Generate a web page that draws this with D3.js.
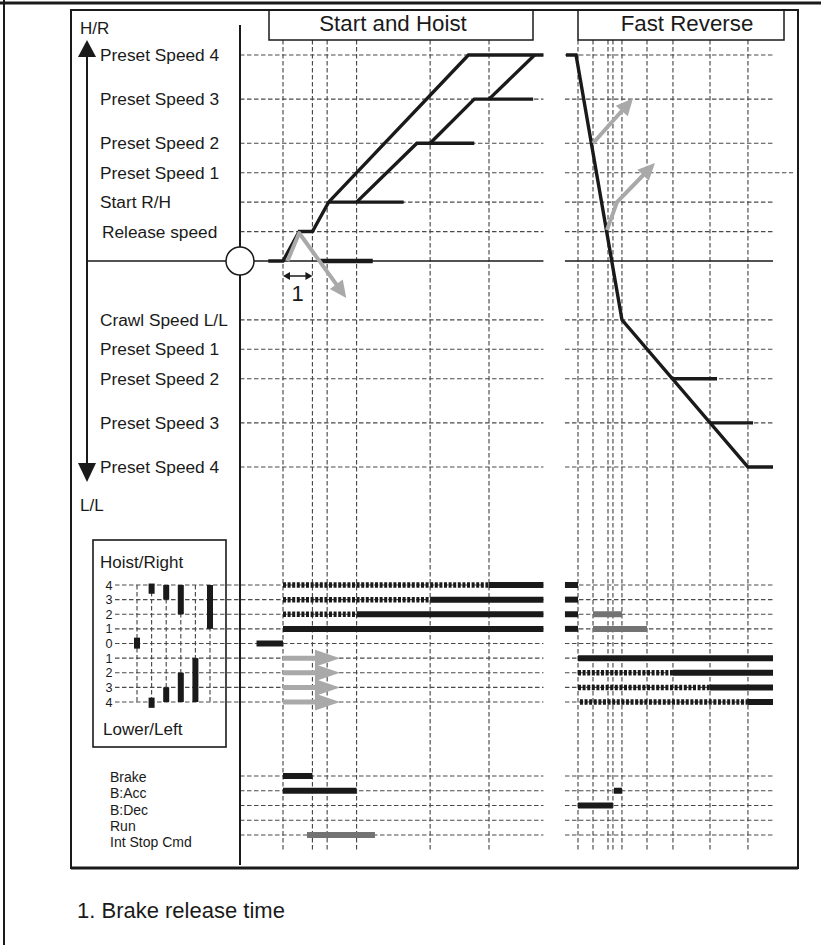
<!DOCTYPE html>
<html><head><meta charset="utf-8">
<script src="https://cdn.jsdelivr.net/npm/d3@7/dist/d3.min.js"></script>
<style>
body{margin:0;background:#fff}
svg{display:block}
text{font-family:"Liberation Sans",Arial,sans-serif;fill:#1a1a1a}
</style>
</head><body>
<svg id="c" width="821" height="945"></svg>
<script>
// ---------- DATA ----------
const panelTitles = ["Start and Hoist", "Fast Reverse"];
const speedLabels = ["Preset Speed 4","Preset Speed 3","Preset Speed 2","Preset Speed 1","Start R/H","Release speed",
                     "Crawl Speed L/L","Preset Speed 1","Preset Speed 2","Preset Speed 3","Preset Speed 4"];
const speedValues = [7, 5.5, 4, 3, 2, 1, -2, -3, -4, -5.5, -7];
const axisEndLabels = ["H/R", "L/L"];

const hoistGridTimes   = [0, 2, 3, 5, 10, 14];
const reverseGridTimes = [0, 1, 2, 2.33, 2.93, 4.6, 6.33, 8.8, 11.33];

// speed profiles: [time, speed]
const hoistMain   = [[-1,0],[0,0],[1.1,1],[2,1],[3.1,2],[12.6,7],[17.7,7]];
const hoistStart  = [[3.1,2],[8.2,2]];
const hoistPS2    = [[5,2],[9.1,4],[13,4]];
const hoistPS3    = [[10,4],[13,5.5],[17,5.5]];
const hoistPS4    = [[14,5.5],[17.1,7]];
const hoistZeroBar = [[2.5,0],[6.1,0]];
const reverseMain = [[-0.8,7],[-0.13,7],[2.93,-2],[11.33,-7],[13,-7]];
const reversePS2  = [[6.33,-4],[9.27,-4]];
const reversePS3  = [[8.8,-5.5],[11.67,-5.5]];

// grey direction arrows: [time, speed]
const hoistGreyArrow    = [[0.3,0],[1.1,0.95],[4.3,-1.26]];
const reverseGreyArrow1 = [[1,4],[3.67,5.53]];
const reverseGreyArrow2 = [[1.93,1.05],[2.6,2],[5.13,3.33]];

// switch positions
const switchLabels    = ["4","3","2","1","0","1","2","3","4"];
const switchPositions = [4, 3, 2, 1, 0, -1, -2, -3, -4];
const switchBoxLabels = ["Hoist/Right", "Lower/Left"];
// [column, from, to]
const switchBoxBars = [[0,0.4,-0.35],[1,4.1,3.4],[1,-3.7,-4.4],[2,4,3],[2,-3,-4],
                       [3,4,2],[3,-2,-4],[4,-1,-4],[5,4,1]];
// [position, t0, t1, kind]
const hoistSwitchSegs = [[4,0,14,"dot"],[4,14,17.7,"solid"],[3,0,10,"dot"],[3,10,17.7,"solid"],
                         [2,0,5,"dot"],[2,5,17.7,"solid"],[1,0,17.7,"solid"],[0,-1.8,0,"solid"]];
const hoistSwitchArrows = [-1, -2, -3, -4];
const hoistSwitchArrowSpan = [0, 3.87];
const reverseSwitchSegs = [[4,-0.87,0,"solid"],[3,-0.87,0,"solid"],[2,-0.87,0,"solid"],[1,-0.87,0,"solid"],
                           [2,1,2.93,"grey"],[1,1,4.6,"grey"],[-1,0,13,"solid"],
                           [-2,0,6.33,"dot"],[-2,6.33,13,"solid"],[-3,0,8.8,"dot"],[-3,8.8,13,"solid"],
                           [-4,0.13,11.33,"dot"],[-4,11.33,13,"solid"]];

// brake / status signals
const signalLabels = ["Brake","B:Acc","B:Dec","Run","Int Stop Cmd"];
const hoistSignalSegs   = [[0,0,2,"solid"],[1,0,5,"solid"],[4,1.63,6.25,"grey"]];
const reverseSignalSegs = [[1,2.4,2.93,"solid"],[2,0,2.33,"solid"]];

const footnote = "1. Brake release time";
const markerLabel = "1";

// ---------- SCALES ----------
const xH = d3.scaleLinear().domain([0,14]).range([283,489]);
const xR = d3.scaleLinear().domain([0,13]).range([578,773]);
const yS = d3.scaleLinear().domain([7,-7]).range([55,467]);
const ySw = d3.scaleLinear().domain([4,-4]).range([585,702]);
const yBr = d3.scaleLinear().domain([0,4]).range([776,835]);
const yBrLabel = d3.scaleLinear().domain([0,4]).range([777,842]);
const xBox = d3.scaleLinear().domain([0,5]).range([137,210]);

const HEND = 17.7, RSTART = -0.87, REND = 13;
const BLACK = "#1a1a1a", GREY = "#a9a9a9", DGREY = "#737373", GRID = "#4a4a4a";

const svg = d3.select("#c");
svg.append("rect").attr("width",821).attr("height",945).attr("fill","#fff");

const gGrid = svg.append("g").attr("stroke",GRID).attr("stroke-width",1.15).attr("fill","none");
function hdash(x1,x2,y){ gGrid.append("line").attr("x1",x1).attr("x2",x2).attr("y1",y).attr("y2",y).attr("stroke-dasharray","4.5,2.5"); }
function vdash(x,y1,y2){ gGrid.append("line").attr("x1",x).attr("x2",x).attr("y1",y1).attr("y2",y2).attr("stroke-dasharray","4.5,2.5"); }

// vertical grids
hoistGridTimes.forEach(t => vdash(xH(t), 40, 850));
reverseGridTimes.forEach(t => vdash(xR(t), 40, 850));
// speed grids
speedValues.forEach((v,i) => {
  hdash(240, xH(HEND), yS(v));
  hdash(xR(RSTART), i === 3 ? 793 : xR(REND), yS(v));
});
// switch grids
switchPositions.forEach(p => {
  hdash(115, xH(HEND), ySw(p));
  hdash(xR(RSTART), xR(REND), ySw(p));
});
d3.range(6).forEach(c => vdash(xBox(c), ySw(4), ySw(-4)));
// signal grids
signalLabels.forEach((s,i) => {
  hdash(240, xH(HEND), yBr(i));
  hdash(xR(RSTART), xR(REND), yBr(i));
});

// ---------- FRAME ----------
const gF = svg.append("g").attr("stroke",BLACK).attr("fill","none");
gF.append("line").attr("x1",0).attr("x2",821).attr("y1",3).attr("y2",3).attr("stroke-width",3);
gF.append("line").attr("x1",4).attr("x2",4).attr("y1",0).attr("y2",945).attr("stroke-width",2);
gF.append("rect").attr("x",71).attr("y",10).attr("width",727).attr("height",858).attr("stroke-width",2);
gF.append("line").attr("x1",71).attr("x2",798).attr("y1",868).attr("y2",868).attr("stroke-width",3);
gF.append("line").attr("x1",240).attr("x2",240).attr("y1",25).attr("y2",865).attr("stroke-width",2);
// switch box
gF.append("rect").attr("x",93).attr("y",540).attr("width",133).attr("height",207).attr("stroke-width",1.6);

// title boxes
[[269,533,393],[578,784,687]].forEach((b,i) => {
  gF.append("rect").attr("x",b[0]).attr("y",10).attr("width",b[1]-b[0]).attr("height",30).attr("stroke-width",1.5);
  svg.append("text").attr("x",b[2]).attr("y",31).attr("text-anchor","middle")
     .attr("font-size",22.3).text(panelTitles[i]);
});

// zero line
gF.append("line").attr("x1",87).attr("x2",xH(HEND)).attr("y1",yS(0)).attr("y2",yS(0)).attr("stroke-width",1.5);
gF.append("line").attr("x1",xR(RSTART)).attr("x2",xR(REND)).attr("y1",yS(0)).attr("y2",yS(0)).attr("stroke-width",1.5);

// vertical speed axis with arrows
gF.append("line").attr("x1",87).attr("x2",87).attr("y1",56).attr("y2",464).attr("stroke-width",2);
svg.append("path").attr("d","M87,40 L78,57 L96,57 Z").attr("fill",BLACK);
svg.append("path").attr("d","M87,482 L78,463 L96,463 Z").attr("fill",BLACK);

// circle
svg.append("circle").attr("cx",240).attr("cy",yS(0)).attr("r",14).attr("fill","#fff").attr("stroke",BLACK).attr("stroke-width",1.5);

// ---------- LABELS ----------
speedLabels.forEach((s,i) => {
  svg.append("text").attr("x", s === "Release speed" ? 102 : 100).attr("y",yS(speedValues[i])).attr("dy","0.35em")
     .attr("font-size",17.3).text(s);
});
svg.append("text").attr("x",80).attr("y",28).attr("dy","0.35em").attr("font-size",17).text(axisEndLabels[0]);
svg.append("text").attr("x",80).attr("y",505).attr("dy","0.35em").attr("font-size",17).text(axisEndLabels[1]);

svg.append("text").attr("x",100).attr("y",562).attr("dy","0.35em").attr("font-size",17).text(switchBoxLabels[0]);
svg.append("text").attr("x",103).attr("y",729).attr("dy","0.35em").attr("font-size",17).text(switchBoxLabels[1]);
switchLabels.forEach((s,i) => {
  svg.append("text").attr("x",109).attr("y",ySw(switchPositions[i])).attr("dy","0.36em")
     .attr("text-anchor","middle").attr("font-size",12.6).text(s);
});
signalLabels.forEach((s,i) => {
  svg.append("text").attr("x",110).attr("y",yBrLabel(i)).attr("dy","0.36em").attr("font-size",14).text(s);
});
svg.append("text").attr("x",77).attr("y",918).attr("font-size",22).text(footnote);

// ---------- SPEED CURVES ----------
const lineH = d3.line().x(d => xH(d[0])).y(d => yS(d[1]));
const lineR = d3.line().x(d => xR(d[0])).y(d => yS(d[1]));
const gC = svg.append("g").attr("fill","none").attr("stroke",BLACK).attr("stroke-width",3.4).attr("stroke-linejoin","miter");
[hoistMain, hoistStart, hoistPS2, hoistPS3, hoistPS4].forEach(p => gC.append("path").attr("d", lineH(p)));
gC.append("path").attr("d", lineH(hoistZeroBar)).attr("stroke-width",4.5);
[reverseMain, reversePS2, reversePS3].forEach(p => gC.append("path").attr("d", lineR(p)));

// grey arrows
function greyArrow(pts, len, hw, sw) {
  const n = pts.length;
  const [ax, ay] = pts[n-2], [bx, by] = pts[n-1];
  const dx = bx-ax, dy = by-ay, L = Math.hypot(dx,dy), ux = dx/L, uy = dy/L;
  const baseX = bx-ux*len, baseY = by-uy*len;
  const shaft = pts.slice(0,n-1).concat([[baseX+ux*1, baseY+uy*1]]);
  svg.append("path").attr("d", d3.line()(shaft)).attr("fill","none").attr("stroke",GREY)
     .attr("stroke-width",sw).attr("stroke-linejoin","round");
  svg.append("path").attr("d", `M${bx},${by} L${baseX-uy*hw},${baseY+ux*hw} L${baseX+uy*hw},${baseY-ux*hw} Z`)
     .attr("fill",GREY);
}
greyArrow(hoistGreyArrow.map(d => [xH(d[0]), yS(d[1])]), 17, 8, 4);
greyArrow(reverseGreyArrow1.map(d => [xR(d[0]), yS(d[1])]), 17, 8, 4);
greyArrow(reverseGreyArrow2.map(d => [xR(d[0]), yS(d[1])]), 17, 8, 4);

// "1" marker: double arrow
const ym = 276, xa = xH(0), xb = xH(2);
svg.append("line").attr("x1",xa+4).attr("x2",xb-4).attr("y1",ym).attr("y2",ym).attr("stroke",BLACK).attr("stroke-width",1.5);
svg.append("path").attr("d",`M${xa},${ym} L${xa+7},${ym-4} L${xa+7},${ym+4} Z`).attr("fill",BLACK);
svg.append("path").attr("d",`M${xb},${ym} L${xb-7},${ym-4} L${xb-7},${ym+4} Z`).attr("fill",BLACK);
svg.append("text").attr("x",(xa+xb)/2).attr("y",301).attr("text-anchor","middle").attr("font-size",22).text(markerLabel);

// ---------- SWITCH BARS ----------
function seg(g, x, y, t0, t1, kind) {
  const l = g.append("line").attr("x1",x(t0)).attr("x2",x(t1)).attr("y1",y).attr("y2",y);
  if (kind === "dot") l.attr("stroke",BLACK).attr("stroke-width",5.5).attr("stroke-dasharray","3,1.6");
  else if (kind === "grey") l.attr("stroke",DGREY).attr("stroke-width",6);
  else l.attr("stroke",BLACK).attr("stroke-width",6);
}
const gS = svg.append("g");
hoistSwitchSegs.forEach(d => seg(gS, xH, ySw(d[0]), d[1], d[2], d[3]));
reverseSwitchSegs.forEach(d => seg(gS, xR, ySw(d[0]), d[1], d[2], d[3]));
hoistSwitchArrows.forEach(p => {
  const y = ySw(p), x0 = xH(hoistSwitchArrowSpan[0]), x1 = xH(hoistSwitchArrowSpan[1]);
  const hb = x1 - 25;
  gS.append("line").attr("x1",x0).attr("x2",hb+1).attr("y1",y).attr("y2",y).attr("stroke",GREY).attr("stroke-width",5);
  gS.append("path").attr("d",`M${x1},${y} L${hb},${y-8.5} L${hb},${y+8.5} Z`).attr("fill",GREY);
});
switchBoxBars.forEach(d => {
  gS.append("rect").attr("x",xBox(d[0])-3).attr("y",ySw(d[1])).attr("width",6)
    .attr("height",ySw(d[2])-ySw(d[1])).attr("fill",BLACK);
});

// ---------- SIGNAL BARS ----------
hoistSignalSegs.forEach(d => seg(gS, xH, yBr(d[0]), d[1], d[2], d[3]));
reverseSignalSegs.forEach(d => seg(gS, xR, yBr(d[0]), d[1], d[2], d[3]));
</script>
</body></html>
